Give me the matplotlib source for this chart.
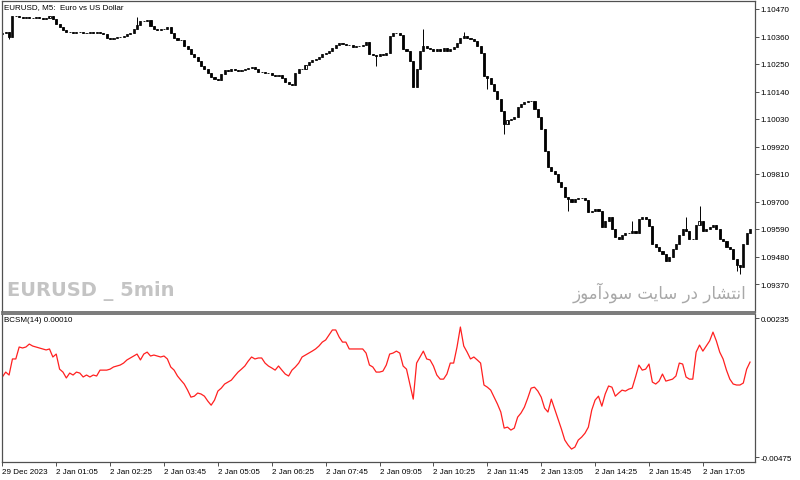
import numpy as np
import matplotlib.pyplot as plt
import pandas as pd

# EURUSD M5, cierres
close = [
    1.10374,
    1.10378, 1.10358, 1.10442, 1.10442, 1.10438, 1.10434, 1.10438, 1.10434, 1.10434, 1.10438,
    1.10434, 1.10430, 1.10434, 1.10442, 1.10430, 1.10410, 1.10398, 1.10386, 1.10378, 1.10378,
    1.10374, 1.10378, 1.10378, 1.10374, 1.10374, 1.10378, 1.10374, 1.10378, 1.10374, 1.10370,
    1.10354, 1.10350, 1.10354, 1.10358, 1.10358, 1.10362, 1.10370, 1.10374, 1.10390, 1.10406,
    1.10422, 1.10422, 1.10426, 1.10402, 1.10390, 1.10386, 1.10390, 1.10390, 1.10398, 1.10374,
    1.10354, 1.10346, 1.10346, 1.10322, 1.10310, 1.10290, 1.10278, 1.10262, 1.10242, 1.10230,
    1.10214, 1.10198, 1.10190, 1.10186, 1.10210, 1.10226, 1.10222, 1.10230, 1.10226, 1.10222,
    1.10226, 1.10230, 1.10234, 1.10238, 1.10230, 1.10218, 1.10218, 1.10214, 1.10214, 1.10206,
    1.10202, 1.10206, 1.10194, 1.10178, 1.10170, 1.10166, 1.10214, 1.10230, 1.10230, 1.10246,
    1.10258, 1.10266, 1.10270, 1.10278, 1.10290, 1.10294, 1.10302, 1.10314, 1.10326, 1.10334,
    1.10330, 1.10326, 1.10326, 1.10318, 1.10322, 1.10322, 1.10326, 1.10338, 1.10290, 1.10286,
    1.10282, 1.10290, 1.10286, 1.10294, 1.10362, 1.10374, 1.10374, 1.10366, 1.10310, 1.10302,
    1.10262, 1.10158, 1.10230, 1.10302, 1.10322, 1.10314, 1.10310, 1.10302, 1.10310, 1.10302,
    1.10314, 1.10302, 1.10310, 1.10318, 1.10334, 1.10354, 1.10362, 1.10354, 1.10350, 1.10342,
    1.10322, 1.10294, 1.10202, 1.10194, 1.10170, 1.10142, 1.10110, 1.10062, 1.10010, 1.10026,
    1.10030, 1.10038, 1.10078, 1.10090, 1.10098, 1.10102, 1.10102, 1.10070, 1.10038, 1.09990,
    1.09902, 1.09838, 1.09822, 1.09810, 1.09778, 1.09758, 1.09718, 1.09710, 1.09698, 1.09710,
    1.09714, 1.09714, 1.09706, 1.09658, 1.09662, 1.09670, 1.09662, 1.09598, 1.09622, 1.09638,
    1.09590, 1.09558, 1.09550, 1.09566, 1.09574, 1.09574, 1.09582, 1.09574, 1.09630, 1.09638,
    1.09630, 1.09602, 1.09530, 1.09518, 1.09502, 1.09490, 1.09462, 1.09478, 1.09510, 1.09530,
    1.09566, 1.09590, 1.09582, 1.09550, 1.09550, 1.09606, 1.09622, 1.09582, 1.09590, 1.09598,
    1.09606, 1.09590, 1.09550, 1.09542, 1.09518, 1.09510, 1.09470, 1.09446, 1.09438, 1.09530,
    1.09574, 1.09590,
]
first_open = 1.10370
# mechas visibles (indice de vela: precio)
wick_high = {40: 1.10438, 125: 1.10390, 137: 1.10378, 187: 1.09622, 203: 1.09638, 207: 1.09682}
wick_low = {2: 1.10350, 111: 1.10242, 144: 1.10150, 149: 1.09970, 168: 1.09662,
            218: 1.09422, 219: 1.09410}

# BCSM(14)
bcsm = [
    -0.00066, -0.00041, -0.00056, 0.00026, 0.00026, 0.00087, 0.00082, 0.00087, 0.00102, 0.00092,
    0.00087, 0.00082, 0.00077, 0.00072, 0.00077, 0.00036, 0.00051, -0.00026, -0.00041, -0.00071,
    -0.00046, -0.00056, -0.00041, -0.00046, -0.00066, -0.00056, -0.00066, -0.00056, -0.00061, -0.00031,
    -0.00031, -0.00031, -0.00026, -0.00015, -0.00010, -0.00005, 0.00005, 0.00021, 0.00031, 0.00041,
    0.00051, 0.00021, 0.00051, 0.00061, 0.00041, 0.00046, 0.00041, 0.00036, 0.00041, 0.00026,
    -0.00015, -0.00031, -0.00061, -0.00082, -0.00102, -0.00133, -0.00169, -0.00164, -0.00148, -0.00153,
    -0.00164, -0.00189, -0.00210, -0.00184, -0.00138, -0.00123, -0.00102, -0.00092, -0.00082, -0.00061,
    -0.00041, -0.00026, -0.00010, 0.00015, 0.00036, 0.00026, 0.00031, 0.00031, 0.00005, -0.00010,
    -0.00020, -0.00031, -0.00010, -0.00031, -0.00051, -0.00061, -0.00031, -0.00015, 0.00005, 0.00036,
    0.00046, 0.00056, 0.00066, 0.00077, 0.00092, 0.00112, 0.00123, 0.00148, 0.00174, 0.00174,
    0.00138, 0.00112, 0.00112, 0.00077, 0.00077, 0.00077, 0.00077, 0.00077, 0.00056, -0.00005,
    -0.00015, -0.00041, -0.00041, -0.00036, -0.00005, 0.00051, 0.00056, 0.00066, 0.00056, -0.00010,
    -0.00026, -0.00102, -0.00179, 0.00005, 0.00036, 0.00066, 0.00026, 0.00021, -0.00010, -0.00056,
    -0.00077, -0.00077, -0.00051, 0.00005, 0.00005, 0.00087, 0.00189, 0.00092, 0.00061, 0.00026,
    0.00036, 0.00021, 0.00005, -0.00107, -0.00118, -0.00133, -0.00169, -0.00204, -0.00245, -0.00327,
    -0.00322, -0.00337, -0.00327, -0.00271, -0.00250, -0.00220, -0.00174, -0.00123, -0.00118, -0.00138,
    -0.00169, -0.00225, -0.00245, -0.00179, -0.00230, -0.00281, -0.00332, -0.00388, -0.00414, -0.00434,
    -0.00424, -0.00388, -0.00373, -0.00353, -0.00322, -0.00235, -0.00184, -0.00164, -0.00215, -0.00153,
    -0.00112, -0.00118, -0.00164, -0.00148, -0.00133, -0.00138, -0.00128, -0.00123, -0.00066, -0.00005,
    -0.00031, -0.00026, 0.00000, -0.00092, -0.00102, -0.00087, -0.00051, -0.00087, -0.00082, -0.00077,
    -0.00061, 0.00005, 0.00000, -0.00066, -0.00077, -0.00077, 0.00061, 0.00097, 0.00066, 0.00092,
    0.00118, 0.00163, 0.00118, 0.00061, 0.00026, -0.00031, -0.00077, -0.00102, -0.00107, -0.00107,
    -0.00097, -0.00026, 0.00010,
]

price_ticks = [1.09370, 1.09480, 1.09590, 1.09700, 1.09810, 1.09920,
               1.10030, 1.10140, 1.10250, 1.10360, 1.10470]
ind_ticks = [-0.00475, 0.00235]
time_labels = ['29 Dec 2023', '2 Jan 01:05', '2 Jan 02:25', '2 Jan 03:45', '2 Jan 05:05',
               '2 Jan 06:25', '2 Jan 07:45', '2 Jan 09:05', '2 Jan 10:25', '2 Jan 11:45',
               '2 Jan 13:05', '2 Jan 14:25', '2 Jan 15:45', '2 Jan 17:05']

times = list(pd.date_range('2023-12-29 23:45', periods=3, freq='5min')) + \
    list(pd.date_range('2024-01-02 00:00', periods=len(close) - 3, freq='5min'))
tstr = [t.strftime('%d %b %H:%M').lstrip('0') for t in times]
tstr[0] = '29 Dec 2023'
tick_pos = [tstr.index(l) for l in time_labels]

font = 'Liberation Sans'
fs = 5.8
frame = '#505050'

fig = plt.figure(figsize=(8, 4.81), dpi=100)
ax1 = fig.add_axes([2/800, (481-313)/481, 753/800, 311/481])
ax2 = fig.add_axes([2/800, (481-463)/481, 753/800, 148/481])

n = len(close)
idx = np.arange(n)
c = np.array(close)
o = np.r_[first_open, c[:-1]]
hi = np.maximum(o, c)
lo = np.minimum(o, c)
for k, v in wick_high.items():
    hi[k] = max(hi[k], v)
for k, v in wick_low.items():
    lo[k] = min(lo[k], v)
up = c >= o
ax1.vlines(idx, lo, hi, color='black', lw=0.7)
ax1.bar(idx[up], (c-o)[up], bottom=o[up], width=0.62, color='white', edgecolor='black', lw=0.6)
ax1.bar(idx[~up], (o-c)[~up], bottom=c[~up], width=0.62, color='black', edgecolor='black', lw=0.6)

ax2.plot(idx, bcsm, color='#ff2020', lw=0.9)

xl = (-0.1, 753/3.368 - 0.1)
for ax in (ax1, ax2):
    ax.set_xlim(*xl)
    for s in ax.spines.values():
        s.set_color(frame)
        s.set_linewidth(0.9)
    ax.yaxis.tick_right()
    ax.tick_params(axis='y', direction='out', length=3, width=0.7, color=frame, pad=1,
                   labelsize=fs, labelcolor='black')

ax1.set_ylim(1.09258, 1.10502)
ax1.set_yticks(price_ticks, ['%.5f' % p for p in price_ticks], family=font, fontsize=fs)
ax1.set_xticks([])
ax1.spines['bottom'].set_linewidth(1.3)
ax1.spines['bottom'].set_color('#707070')

ax2.set_ylim(-0.00500, 0.002555)
ax2.set_yticks(ind_ticks, ['%.5f' % v for v in ind_ticks], family=font, fontsize=fs)
ax2.spines['top'].set_linewidth(1.3)
ax2.spines['top'].set_color('#707070')
ax2.set_xticks(tick_pos, time_labels, family=font, fontsize=fs, ha='left')
ax2.tick_params(axis='x', direction='out', length=3, width=0.7, color=frame, pad=1)

ax1.text(0.003, 0.993, 'EURUSD, M5:  Euro vs US Dollar', transform=ax1.transAxes,
         family=font, fontsize=fs, va='top', ha='left')
ax2.text(0.003, 0.985, 'BCSM(14) 0.00010', transform=ax2.transAxes,
         family=font, fontsize=fs, va='top', ha='left')

ax1.text(0.006, 0.072, 'EURUSD _ 5min', transform=ax1.transAxes, color='#c4c4c4',
         fontsize=14, fontweight='bold', family='DejaVu Sans',
         ha='left', va='center')

# "انتشار در سایت سودآموز" en formas de presentacion, orden visual
fa = ('\uFE8D\uFEE7\uFE98\uFEB8\uFE8E\uFEAD \uFEA9\uFEAD \uFEB3\uFE8E\uFEF3\uFE96 '
      '\uFEB3\uFEEE\uFEA9\uFE81\uFEE3\uFEEE\uFEAF')[::-1]
ax1.text(0.988, 0.065, fa, transform=ax1.transAxes, color='#a8a8a8', fontsize=12,
         family=['DejaVu Sans', 'Noto Sans'], ha='right', va='center')

fig.savefig('out.png', dpi=100, facecolor='white')
